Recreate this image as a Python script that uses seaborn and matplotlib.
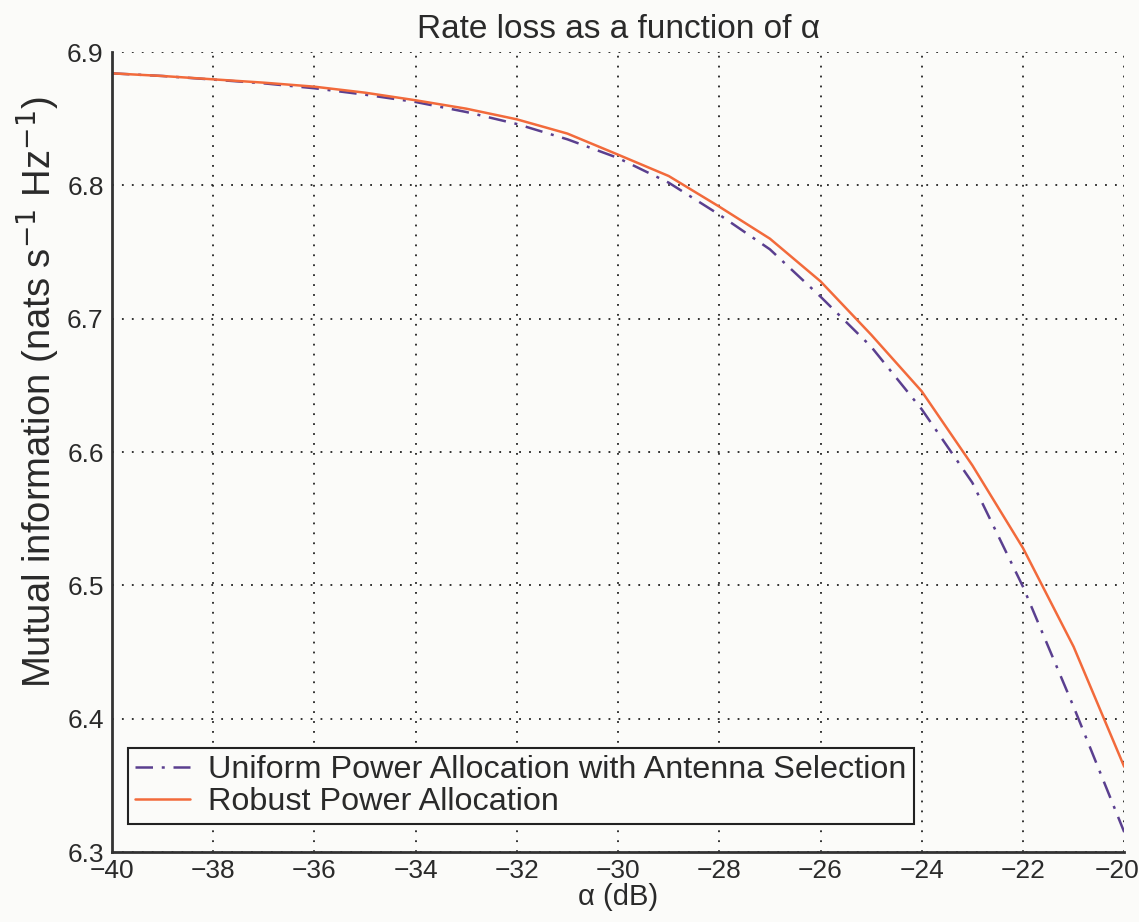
import numpy as np
import pandas as pd
import matplotlib
matplotlib.use("Agg")
import matplotlib.pyplot as plt
import seaborn as sns

# === Data ===
alpha_db = [-40, -39, -38, -37, -36, -35, -34, -33, -32, -31, -30,
            -29, -28, -27, -26, -25, -24, -23, -22, -21, -20]
uniform_as = [6.884, 6.882, 6.8793, 6.8765, 6.8728, 6.868, 6.8625, 6.855, 6.846, 6.8345, 6.8205,
              6.802, 6.778, 6.752, 6.7165, 6.679, 6.632, 6.577, 6.499, 6.409, 6.315]
robust = [6.884, 6.882, 6.8795, 6.877, 6.874, 6.8695, 6.8638, 6.8575, 6.8495, 6.8388, 6.823,
          6.807, 6.784, 6.760, 6.728, 6.688, 6.6455, 6.590, 6.528, 6.454, 6.364]
series_names = ["Uniform Power Allocation with Antenna Selection", "Robust Power Allocation"]
x_ticks = list(range(-40, -19, 2))
y_ticks = [6.3, 6.4, 6.5, 6.6, 6.7, 6.8, 6.9]

df = pd.DataFrame({
    "alpha": alpha_db * 2,
    "mi": uniform_as + robust,
    "series": [series_names[0]] * len(alpha_db) + [series_names[1]] * len(alpha_db),
})

sns.set_style("white")
plt.rcParams["font.family"] = ["Liberation Sans", "DejaVu Sans"]
plt.rcParams["text.color"] = "#2a2a2a"
plt.rcParams["axes.labelcolor"] = "#2a2a2a"

fig = plt.figure(figsize=(11.39, 9.22), dpi=100, facecolor="#fbfbf9")
ax = fig.add_axes([0.0983, 0.0759, 0.8887, 0.8677])
ax.set_facecolor("#fbfbf9")

palette = {series_names[0]: "#5a3f8f", series_names[1]: "#f26a3b"}
dashes = {series_names[0]: (7, 3.5, 1.2, 3.5), series_names[1]: ""}
sns.lineplot(data=df, x="alpha", y="mi", hue="series", style="series",
             palette=palette, dashes=dashes, linewidth=1.8, ax=ax)

ax.set_xlim(-40, -20)
ax.set_ylim(6.3, 6.9)
ax.set_xticks(x_ticks)
# last x label drawn separately so it stays inside the figure
x_labels = [f"\u2212{abs(v)}" for v in x_ticks]
ax.set_xticklabels(x_labels[:-1] + [""])
ax.set_yticks(y_ticks)
ax.set_yticklabels([f"{v:.1f}" for v in y_ticks])
ax.tick_params(direction="in", length=9, width=1.5, labelsize=19,
               colors="#333333", labelcolor="#2a2a2a")
ax.tick_params(axis="x", pad=5)
ax.tick_params(axis="y", pad=6)
ax.grid(True, linestyle=(0, (1, 4.5)), color="#222222", linewidth=1.3)

ax.annotate(x_labels[-1], xy=(1, 0), xycoords="axes fraction",
            xytext=(-5, -5 - 9 * 0), textcoords="offset points",
            ha="center", va="top", fontsize=19, color="#2a2a2a")

for side in ["top", "right"]:
    ax.spines[side].set_visible(False)
for side in ["left", "bottom"]:
    ax.spines[side].set_linewidth(2)
    ax.spines[side].set_color("#333333")

ax.set_xlabel("α (dB)", fontsize=21, labelpad=0)
ax.set_ylabel(r"Mutual information (nats s$^{-1}$ Hz$^{-1}$)", fontsize=27.5)
ax.yaxis.set_label_coords(-0.049, 0.575)
ax.set_title("Rate loss as a function of α", fontsize=24, pad=10)

leg = ax.legend(loc="lower left", bbox_to_anchor=(0.016, 0.035), fontsize=23.3,
                frameon=True, fancybox=False, edgecolor="#222222",
                handlelength=1.7, borderpad=0.22, labelspacing=0.05,
                handletextpad=0.55, borderaxespad=0)
leg.get_frame().set_linewidth(1.5)
leg.get_frame().set_facecolor("#fbfbf9")
leg.get_frame().set_alpha(1)

fig.savefig("out.png", dpi=100, facecolor=fig.get_facecolor())
